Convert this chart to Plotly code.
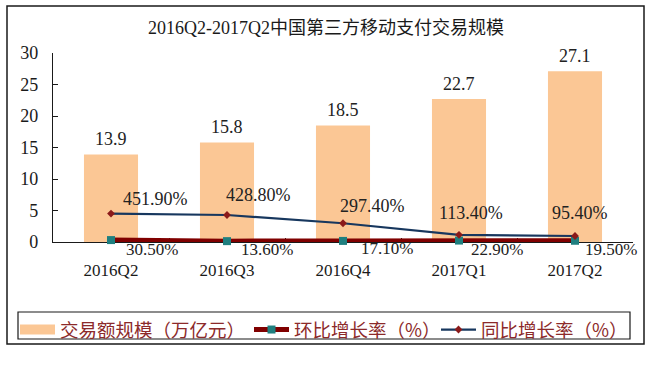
import plotly.graph_objects as go

# ---------------- data ----------------
categories = ["2016Q2", "2016Q3", "2016Q4", "2017Q1", "2017Q2"]
volume = [13.9, 15.8, 18.5, 22.7, 27.1]          # 交易额规模（万亿元）
qoq_pct = [30.5, 13.6, 17.1, 22.9, 19.5]         # 环比增长率（%）
yoy_pct = [451.9, 428.8, 297.4, 113.4, 95.4]     # 同比增长率（%）
y_ticks = [0, 5, 10, 15, 20, 25, 30]
title_text = "2016Q2-2017Q2中国第三方移动支付交易规模"
legend_names = ["交易额规模（万亿元）", "环比增长率（%）", "同比增长率（%）"]

# ---------------- layout geometry ----------------
W, H = 652, 384
L, R, T, B = 53, 19, 53, 142
PW, PH = W - L - R, H - T - B


def px_x(p):
    return (p - L) / PW


def px_y(p):
    return (H - B - p) / PH


# label offsets (px) for the growth-rate data labels
yoy_shift = [(44, -15), (31, -20), (29, -17), (12, -22), (5, -23)]
qoq_shift = [(41, 9), (40, 8), (44, 8), (38, 8.5), (36, 9)]
# left edges (px) of the three legend entries
legend_x_px = [15, 249, 436]

BAR_C = "#FBC795"
QOQ_C = "#800000"
QOQ_M = "#1F7F7F"
YOY_C = "#17375E"
YOY_M = "#8B1A1A"
NUM_FONT = "Liberation Serif, Noto Sans CJK SC"
CJK_FONT = "Noto Sans CJK SC"

qoq_y = [v / 100 for v in qoq_pct]
yoy_y = [v / 100 for v in yoy_pct]

fig = go.Figure()

# bars (legend shown through a proxy swatch)
fig.add_trace(go.Bar(
    x=categories, y=volume, width=0.466, marker=dict(color=BAR_C, line=dict(width=0)),
    showlegend=False, hoverinfo="skip",
))
fig.add_trace(go.Scatter(
    x=[None], y=[None], mode="lines", name=legend_names[0], legend="legend",
    line=dict(color=BAR_C, width=11),
))
fig.add_trace(go.Scatter(
    x=categories, y=qoq_y, mode="lines+markers", name=legend_names[1], legend="legend2",
    line=dict(color=QOQ_C, width=5),
    marker=dict(symbol="square", size=8, color=QOQ_M),
    cliponaxis=False,
))
fig.add_trace(go.Scatter(
    x=categories, y=yoy_y, mode="lines+markers", name=legend_names[2], legend="legend3",
    line=dict(color=YOY_C, width=2.2),
    marker=dict(symbol="diamond", size=6, color=YOY_M),
    cliponaxis=False,
))

annotations = []
for c, v in zip(categories, volume):
    annotations.append(dict(
        x=c, y=v, xref="x", yref="y", text=f"{v:.1f}", showarrow=False,
        xanchor="center", yanchor="middle", yshift=15,
        font=dict(family=NUM_FONT, size=18, color="#222222"),
    ))
for c, v, yv, (dx, dy) in zip(categories, yoy_pct, yoy_y, yoy_shift):
    annotations.append(dict(
        x=c, y=yv, xref="x", yref="y", text=f"{v:.2f}%", showarrow=False,
        xanchor="center", yanchor="middle", xshift=dx, yshift=-dy,
        font=dict(family=NUM_FONT, size=18, color="#222222"),
    ))
for c, v, yv, (dx, dy) in zip(categories, qoq_pct, qoq_y, qoq_shift):
    annotations.append(dict(
        x=c, y=yv, xref="x", yref="y", text=f"{v:.2f}%", showarrow=False,
        xanchor="center", yanchor="middle", xshift=dx, yshift=-dy,
        font=dict(family=NUM_FONT, size=17, color="#222222"),
    ))

shapes = [
    # outer chart border
    dict(type="rect", xref="paper", yref="paper",
         x0=px_x(7), x1=px_x(644), y0=px_y(344), y1=px_y(6),
         line=dict(color="#1a1a1a", width=1.5), layer="below"),
    # legend border
    dict(type="rect", xref="paper", yref="paper",
         x0=px_x(18), x1=px_x(630), y0=px_y(339), y1=px_y(312),
         line=dict(color="#1a1a1a", width=1.2), layer="below"),
]


def legend_cfg(xp):
    return dict(
        orientation="h", x=px_x(xp), y=px_y(311), xanchor="left", yanchor="top",
        bgcolor="rgba(0,0,0,0)", borderwidth=0,
        font=dict(family=CJK_FONT, size=18.5, color="#8C2A2A"),
        itemwidth=35,
    )


fig.update_layout(
    width=W, height=H,
    margin=dict(l=L, r=R, t=T, b=B, pad=0),
    paper_bgcolor="white", plot_bgcolor="white",
    title=dict(text=title_text, x=px_x(326), xref="paper", xanchor="center",
               y=1 - 28 / H, yref="container", yanchor="middle",
               font=dict(family=NUM_FONT, size=18, color="#1a1a1a")),
    xaxis=dict(
        type="category", tickson="boundaries", ticks="inside", ticklen=4,
        tickcolor="#1a1a1a", showline=True, linecolor="#1a1a1a", linewidth=1.2,
        showgrid=False, zeroline=False, layer="below traces",
        tickfont=dict(family=NUM_FONT, size=17, color="#1a1a1a"),
        ticklabelstandoff=12, range=[-0.5, 4.5],
    ),
    yaxis=dict(
        range=[0, 30], tickvals=y_ticks, ticks="inside", ticklen=5,
        tickcolor="#1a1a1a", showline=True, linecolor="#1a1a1a", linewidth=1.2,
        showgrid=False, zeroline=False,
        tickfont=dict(family=NUM_FONT, size=18, color="#1a1a1a"),
        ticklabelstandoff=10,
    ),
    legend=legend_cfg(legend_x_px[0]),
    legend2=legend_cfg(legend_x_px[1]),
    legend3=legend_cfg(legend_x_px[2]),
    annotations=annotations, shapes=shapes,
    showlegend=True,
)

fig.write_html(
    "out.html",
    config={"displayModeBar": False},
    post_script="document.body.style.margin='0';document.body.style.overflow='hidden';",
)
